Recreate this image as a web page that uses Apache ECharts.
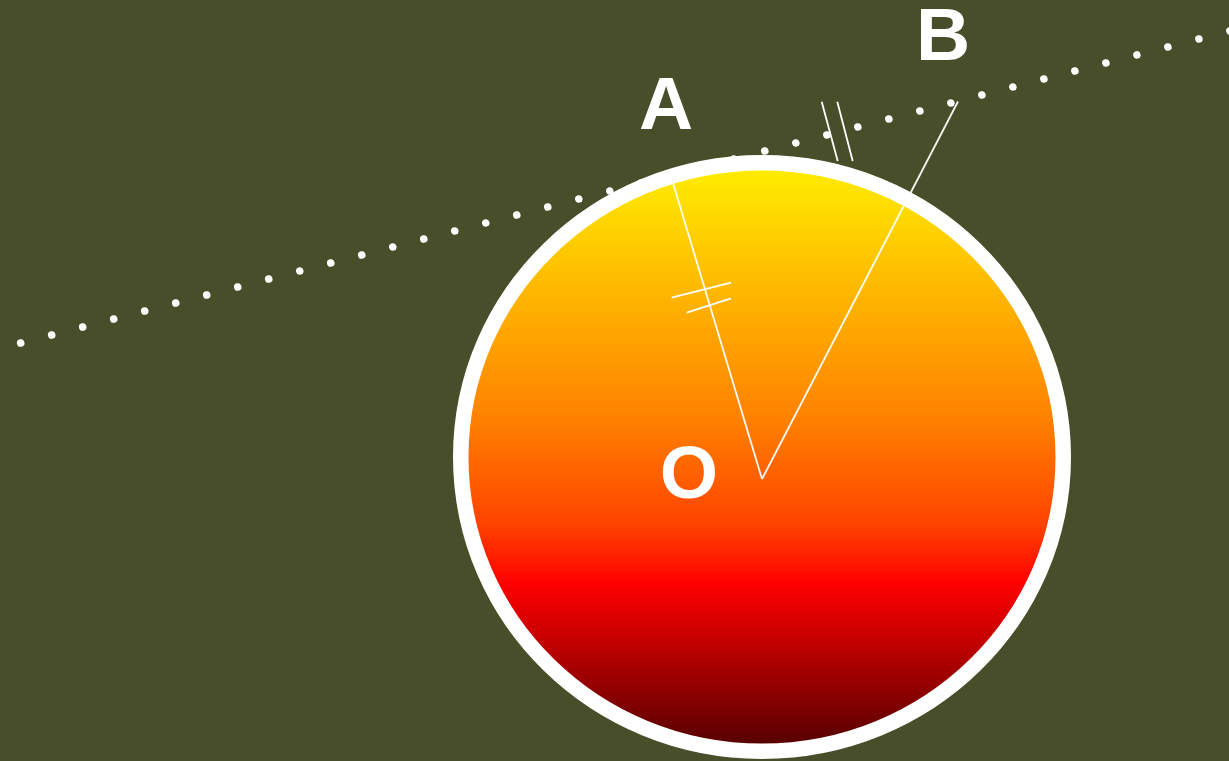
<!DOCTYPE html>
<html>
<head>
<meta charset="utf-8">
<script src="https://cdn.jsdelivr.net/npm/echarts@6/dist/echarts.min.js"></script>
<style>
html,body{margin:0;padding:0;background:#474e29;}
#chart{width:1229px;height:761px;}
</style>
</head>
<body>
<div id="chart"></div>
<script>
// Geometry (in canvas-like units on hidden value axes)
const circle = [[762, 457, 301.25, 294.25]]; // cx, cy, rx, ry (stroke centre)
const pointO = [762, 479];
const pointA = [671.5, 178];
const pointB = [958, 101.5];
const tangentLine = [[20.7, 343], [1260.7, 23]];
const tangentTicks = [
  [[821.7, 101.7], [837.7, 161]],
  [[837.3, 101.7], [852.7, 161]]
];
const radiusTicks = [
  [[671.7, 297.7], [731, 282.7]],
  [[686.7, 312.7], [731, 298.3]]
];
const labels = [
  [666, 108, 'A'],
  [943, 39, 'B'],
  [689, 477, 'O']
];

const chart = echarts.init(document.getElementById('chart'));
const option = {
  backgroundColor: '#474e29',
  animation: false,
  grid: {left: 0, right: 0, top: 0, bottom: 0},
  xAxis: {type: 'value', min: 0, max: 1229, show: false},
  yAxis: {type: 'value', min: 0, max: 761, inverse: true, show: false},
  series: [
    {
      type: 'line',
      z: 1,
      silent: true,
      data: tangentLine,
      showSymbol: false,
      symbol: 'none',
      lineStyle: {color: '#ffffff', width: 7.5, type: [0.001, 32.02], cap: 'round'}
    },
    {
      type: 'custom',
      z: 2,
      silent: true,
      data: circle,
      renderItem: function (params, api) {
        const c = api.coord([api.value(0), api.value(1)]);
        const s = api.size([api.value(2), api.value(3)]);
        return {
          type: 'ellipse',
          shape: {cx: c[0], cy: c[1], rx: Math.abs(s[0]), ry: Math.abs(s[1])},
          style: {
            fill: new echarts.graphic.LinearGradient(0, 0, 0, 1, [
              {offset: 0, color: '#fff200'},
              {offset: 0.44, color: '#ff8000'},
              {offset: 0.61, color: '#ff4400'},
              {offset: 0.71, color: '#ff0000'},
              {offset: 1, color: '#480000'}
            ]),
            stroke: '#ffffff',
            lineWidth: 15.5
          }
        };
      }
    },
    {
      type: 'lines',
      coordinateSystem: 'cartesian2d',
      z: 3,
      silent: true,
      data: [{coords: [pointO, pointA]}, {coords: [pointO, pointB]}],
      lineStyle: {color: '#ffffff', width: 1.8, opacity: 0.95}
    },
    {
      type: 'lines',
      coordinateSystem: 'cartesian2d',
      z: 3,
      silent: true,
      data: tangentTicks.concat(radiusTicks).map(function (c) { return {coords: c}; }),
      lineStyle: {color: '#ffffff', width: 1.8, opacity: 1}
    },
    {
      type: 'scatter',
      z: 4,
      silent: true,
      symbolSize: 0,
      itemStyle: {opacity: 1},
      data: labels,
      label: {
        show: true,
        position: 'inside',
        formatter: function (p) { return p.data[2]; },
        color: '#ffffff',
        opacity: 1,
        fontSize: 75,
        fontWeight: 'bold',
        fontFamily: 'Liberation Sans, Arial, sans-serif'
      }
    }
  ]
};
chart.setOption(option);
</script>
</body>
</html>
